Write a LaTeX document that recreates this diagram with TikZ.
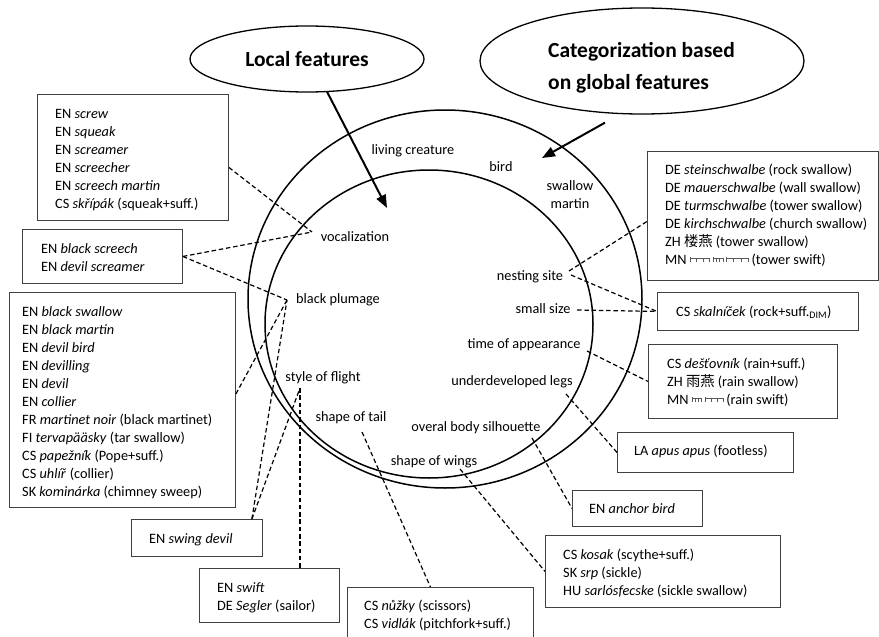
\documentclass[tikz,border=0pt]{standalone}
\usepackage{fontspec}
\setmainfont{Carlito}
\newfontfamily\cjk{Noto Sans CJK SC}
\usetikzlibrary{shapes.geometric,arrows.meta}
\newcommand\mgtick{\rule[2pt]{0.6pt}{3.6pt}}
\newcommand\mgw[1]{\textcolor{black!65}{\rlap{\rule[5pt]{#1pt}{0.7pt}}\makebox[#1pt][s]{\rule[2.5pt]{0.6pt}{5pt}\hfill\mgtick\hfill\mgtick\hfill\mgtick}}}
\tikzset{
  box/.style={draw=black!75, fill=white, line width=0.9pt, rectangle, inner sep=0pt, anchor=north west},
  txt/.style={anchor=base west, align=left, inner sep=0pt, font=\fontsize{14.3}{18}\selectfont},
  lab/.style={anchor=base, align=center, inner sep=0pt, font=\fontsize{14.3}{18}\selectfont},
  conn/.style={line width=1.2pt, dash pattern=on 4.5pt off 2.8pt},
  bigarrow/.style={line width=2pt, -{Triangle[length=13pt,width=10pt]}},
  ring/.style={ellipse, draw, line width=1.5pt, inner sep=0pt},
  title/.style={font=\fontsize{21.5}{32}\selectfont\bfseries, inner sep=0pt}
}
\begin{document}
\begin{tikzpicture}[x=1pt,y=-1pt]
\useasboundingbox (0,0) rectangle (879,637);
\clip (0,0) rectangle (879,637);
\fill[white] (0,0) rectangle (879,637);

% rings
\node[ring, minimum width=394pt, minimum height=378pt] (outer) at (445,299) {};
\node[ring, minimum width=328pt, minimum height=308pt] (inner) at (429,324) {};

% title ellipses
\node[ellipse, draw, line width=1.3pt, minimum width=234pt, minimum height=66pt, title] (local) at (307,59) {Local features};
\node[ellipse, draw, line width=1.3pt, minimum width=324pt, minimum height=106pt] (glob) at (642,61) {};
\node[title, align=left, anchor=base west] (globT) at (548,89) {Categorization based\\on global features};

\coordinate (lTip) at (387,208);
\coordinate (gTip) at (542,158);
\draw[bigarrow] ([xshift=20pt,yshift=1pt]local.south) -- (lTip);
\draw[bigarrow] ([xshift=-37pt,yshift=-8pt]glob.south) -- (gTip);

% labels in rings
\node[lab] (living) at (413,154) {living creature};
\node[lab] (bird) at (501,171) {bird};
\node[lab] (swallow) at (570,208) {swallow\\martin};
\node[lab] (voc) at (355,241) {vocalization};
\node[lab] (bp) at (338,303) {black plumage};
\node[lab] (sof) at (323,381) {style of flight};
\node[lab] (tail) at (351,421) {shape of tail};
\node[lab] (sil) at (476,431) {overal body silhouette};
\node[lab] (wings) at (434,465) {shape of wings};
\node[lab] (legs) at (512,385) {underdeveloped legs};
\node[lab] (time) at (524,348) {time of appearance};
\node[lab] (small) at (543,313) {small size};
\node[lab] (nest) at (530,280) {nesting site};

% connection points near labels
\coordinate (pVoc) at (312,232);
\coordinate (pBP) at (287,300);
\coordinate (pSOF) at (300,388);
\coordinate (pTail) at (362,432);
\coordinate (pWings) at (460,469);
\coordinate (pSil) at (532,438);
\coordinate (pLegs) at (566,394);
\coordinate (pTime) at (587,351);
\coordinate (pSmall) at (577,310);
\coordinate (pNest) at (569,271);
\coordinate (pNestB) at (571,275);

% boxes (text nodes anchored at the baseline of their last line)
\node[box, minimum width=191pt, minimum height=126pt] (screw) at (37,94) {};
\node[txt] (screwT) at (55,208) {EN \textit{screw}\\EN \textit{squeak}\\EN \textit{screamer}\\EN \textit{screecher}\\EN \textit{screech martin}\\CS \textit{skřípák} (squeak+suff.)};

\node[box, minimum width=160pt, minimum height=54pt] (screech) at (22,229) {};
\node[txt] (screechT) at (41,271) {EN \textit{black screech}\\EN \textit{devil screamer}};

\node[box, minimum width=226pt, minimum height=215pt] (bsw) at (9,292) {};
\node[txt] (bswT) at (22,496) {EN \textit{black swallow}\\EN \textit{black martin}\\EN \textit{devil bird}\\EN \textit{devilling}\\EN \textit{devil}\\EN \textit{collier}\\FR \textit{martinet noir} (black martinet)\\FI \textit{tervapääsky} (tar swallow)\\CS \textit{papežník} (Pope+suff.)\\CS \textit{uhlíř} (collier)\\SK \textit{kominárka} (chimney sweep)};

\node[box, minimum width=131pt, minimum height=37pt] (sd) at (131,519) {};
\node[txt] (sdT) at (149,543) {EN \textit{swing devil}};

\node[box, minimum width=140pt, minimum height=54pt] (swift) at (199,568) {};
\node[txt] (swiftT) at (217,610) {EN \textit{swift}\\DE \textit{Segler} (sailor)};

\node[box, minimum width=186pt, minimum height=56pt] (nuz) at (347,587) {};
\node[txt] (nuzT) at (364,628) {CS \textit{nůžky} (scissors)\\CS \textit{vidlák} (pitchfork+suff.)};

\node[box, minimum width=231pt, minimum height=129pt] (de) at (647,151) {};
\node[txt] (deT) at (665,264) {DE \textit{steinschwalbe} (rock swallow)\\DE \textit{mauerschwalbe} (wall swallow)\\DE \textit{turmschwalbe} (tower swallow)\\DE \textit{kirchschwalbe} (church swallow)\\ZH {\cjk 楼燕} (tower swallow)\\MN \mgw{20} \mgw{10} \mgw{22} (tower swift)};

\node[box, minimum width=201pt, minimum height=38pt] (skal) at (657,292) {};
\node[txt] (skalT) at (676,316) {CS \textit{skalníček} (rock+suff.\textsubscript{DIM})};

\node[box, minimum width=189pt, minimum height=74pt] (rain) at (648,344) {};
\node[txt] (rainT) at (667,404) {CS \textit{dešťovník} (rain+suff.)\\ZH {\cjk 雨燕} (rain swallow)\\MN \mgw{10} \mgw{18} (rain swift)};

\node[box, minimum width=176pt, minimum height=40pt] (apus) at (617,432) {};
\node[txt] (apusT) at (634,455) {LA \textit{apus apus} (footless)};

\node[box, minimum width=130pt, minimum height=36pt] (anchorb) at (572,490) {};
\node[txt] (anchorT) at (589,513) {EN \textit{anchor bird}};

\node[box, minimum width=235pt, minimum height=72pt] (kosak) at (545,535) {};
\node[txt] (kosakT) at (563,595) {CS \textit{kosak} (scythe+suff.)\\SK \textit{srp} (sickle)\\HU \textit{sarlósfecske} (sickle swallow)};

% dashed connectors
\draw[conn] ([yshift=-10pt]screw.east) -- (pVoc);
\draw[conn] (screech.east) -- (pVoc);
\draw[conn] (screech.east) -- (pBP);
\draw[conn] ([yshift=6pt]bsw.east) -- (pBP);
\draw[conn] ([xshift=-11pt]sd.north east) -- (pBP);
\draw[conn] ([xshift=-11pt]sd.north east) -- (pSOF);
\draw[conn] (pSOF) -- (pSOF |- swift.north);
\draw[conn] (pTail) -- ([xshift=-10pt]nuz.north);
\draw[conn] (pWings) -- (kosak.west);
\draw[conn] (pSil) -- (anchorb.west);
\draw[conn] (pLegs) -- (apus.west);
\draw[conn] (pTime) -- (rain.west);
\draw[conn] (pSmall) -- (skal.west);
\draw[conn] (pNest) -- ([yshift=-5.5pt]de.west);
\draw[conn] (pNestB) -- (skal.west);
\end{tikzpicture}
\end{document}
